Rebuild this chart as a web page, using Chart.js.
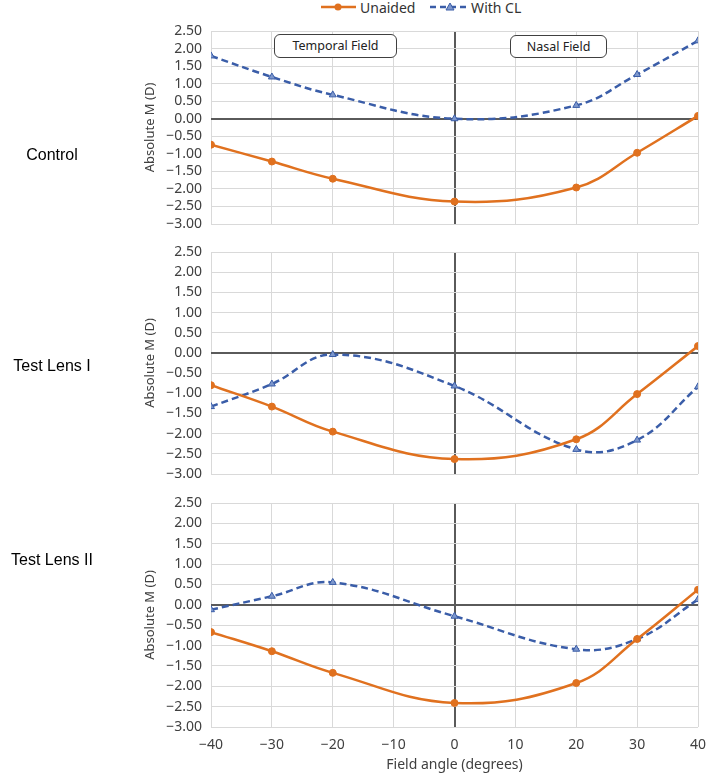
<!DOCTYPE HTML><html>
<head>
  <title>Absolute M by field angle</title>
  <meta name="viewport" content="width=device-width, initial-scale=1">
  <style>
  body {
    margin: 0;
    background: #fff;
    font-family: "Noto Sans", sans-serif;
  }
  .wrap {
    position: relative;
    width: 709px;
    height: 775px;
    overflow: hidden;
  }
  .panel {
    position: absolute;
    left: 0;
    width: 709px;
  }
  .rowlabel {
    position: absolute;
    left: 0;
    width: 104px;
    text-align: center;
    font-family: "Liberation Sans", Arial, sans-serif;
    font-size: 16px;
    color: #000;
    line-height: 20px;
  }
  .fieldbox {
    position: absolute;
    box-sizing: border-box;
    border: 1px solid #404040;
    border-radius: 6px;
    background: #fff;
    font-size: 12.5px;
    color: #222;
    text-align: center;
    line-height: 21px;
  }
  .legend {
    position: absolute;
    top: -4px;
    left: 318px;
    font-size: 14px;
    color: #333;
    white-space: nowrap;
  }
  .legend span { vertical-align: middle; }
  .legend svg { vertical-align: middle; }
  </style>
  <script src="https://cdn.jsdelivr.net/npm/chart.js"></script>
</head>
<body>
<div class="wrap">
  <div class="legend">
    <svg width="40" height="12"><line x1="3" y1="6" x2="38" y2="6" stroke="#E0711F" stroke-width="2.5"/><circle cx="20" cy="6" r="3.5" fill="#E0711F"/></svg><span style="margin-left:2px">Unaided</span>
    <svg width="42" height="12" style="margin-left:10px"><line x1="1" y1="6" x2="40" y2="6" stroke="#3A5DA8" stroke-width="2.5" stroke-dasharray="6,4"/><polygon points="21,2 25,9 17,9" fill="#7D97CC" stroke="#3A5DA8" stroke-width="1"/></svg><span>With CL</span>
  </div>

  <canvas id="p1" class="panel" style="top:18px" width="709" height="220"></canvas>
  <canvas id="p2" class="panel" style="top:240px" width="709" height="248"></canvas>
  <canvas id="p3" class="panel" style="top:490px" width="709" height="285"></canvas>

  <div class="fieldbox" style="left:274px;top:34px;width:123px;height:24px">Temporal Field</div>
  <div class="fieldbox" style="left:510px;top:35px;width:97px;height:23px">Nasal Field</div>

  <div class="rowlabel" style="top:145px">Control</div>
  <div class="rowlabel" style="top:356px">Test Lens I</div>
  <div class="rowlabel" style="top:550px">Test Lens II</div>
</div>

<script>
  // field angles (degrees)
  var angles = [-40, -30, -20, 0, 20, 30, 40];

  // absolute M (D)
  var controlUnaided = [-0.74, -1.22, -1.71, -2.36, -1.96, -0.97, 0.08];
  var controlCL      = [1.79, 1.19, 0.68, 0.00, 0.38, 1.26, 2.22];
  var lens1Unaided   = [-0.80, -1.33, -1.95, -2.63, -2.14, -1.02, 0.17];
  var lens1CL        = [-1.33, -0.77, -0.04, -0.82, -2.39, -2.16, -0.84];
  var lens2Unaided   = [-0.67, -1.14, -1.67, -2.41, -1.92, -0.84, 0.37];
  var lens2CL        = [-0.12, 0.21, 0.55, -0.28, -1.09, -0.84, 0.13];

  var xMin = -40, xMax = 40, xStep = 10;
  var yMin = -3, yMax = 2.5, yStep = 0.5;

  var orange = '#E0711F';
  var blue = '#3A5DA8';
  var gridCol = '#D9D9D9';
  var zeroCol = '#5A5A5A';

  function pts(ys) {
    return angles.map(function (a, i) { return {x: a, y: ys[i]}; });
  }

  function fmt(v) {
    var s = Math.abs(v).toFixed(2);
    return (v < -0.001 ? '\u2212' : '') + s;
  }

  function gridColor(ctx) { return ctx.tick && ctx.tick.value === 0 ? zeroCol : gridCol; }
  function gridWidth(ctx) { return ctx.tick && ctx.tick.value === 0 ? 2 : 1; }

  function makePanel(id, unaided, withCL, pad, showX) {
    var xAxis = {
      type: 'linear',
      min: xMin,
      max: xMax,
      border: {display: false},
      grid: {color: gridColor, lineWidth: gridWidth, drawTicks: false},
      ticks: {
        display: showX,
        autoSkip: false,
        stepSize: xStep,
        padding: 10,
        maxRotation: 0,
        color: '#404040',
        font: {family: 'Noto Sans', size: 14},
        callback: function (v) { return v < 0 ? '\u2212' + Math.abs(v) : String(v); }
      },
      title: {
        display: showX,
        text: 'Field angle (degrees)',
        color: '#404040',
        padding: {top: 4, bottom: 2},
        font: {family: 'Noto Sans', size: 14}
      },
      afterFit: function (s) {
        s.height = showX ? 48 : 0;
        s.paddingLeft = 0;
        s.paddingRight = 0;
      }
    };
    var yAxis = {
      min: yMin,
      max: yMax,
      border: {display: false},
      grid: {color: gridColor, lineWidth: gridWidth, drawTicks: false},
      ticks: {
        autoSkip: false,
        stepSize: yStep,
        padding: 9,
        color: '#404040',
        font: {family: 'Noto Sans', size: 14},
        callback: function (v) { return fmt(v); }
      },
      title: {
        display: true,
        text: 'Absolute M (D)',
        color: '#404040',
        padding: {top: 4, bottom: 4},
        font: {family: 'Noto Sans', size: 13}
      },
      afterFit: function (s) {
        s.width = 73;
        s.paddingTop = 0;
        s.paddingBottom = 0;
      }
    };

    return new Chart(document.getElementById(id), {
      type: 'line',
      data: {
        datasets: [{
          label: 'Unaided',
          data: pts(unaided),
          borderColor: orange,
          backgroundColor: orange,
          borderWidth: 2.5,
          pointRadius: 3.5,
          pointBorderWidth: 1,
          pointStyle: 'circle',
          tension: 0.4
        }, {
          label: 'With CL',
          data: pts(withCL),
          borderColor: blue,
          backgroundColor: '#7D97CC',
          borderWidth: 2.5,
          borderDash: [7, 4],
          pointRadius: 4,
          pointBorderWidth: 1,
          pointStyle: 'triangle',
          tension: 0.4
        }]
      },
      options: {
        responsive: false,
        animation: false,
        layout: {padding: pad},
        plugins: {legend: {display: false}, tooltip: {enabled: false}},
        scales: {x: xAxis, y: yAxis}
      }
    });
  }

  makePanel('p1', controlUnaided, controlCL, {left: 138, right: 11, top: 13, bottom: 14}, false);
  makePanel('p2', lens1Unaided, lens1CL, {left: 138, right: 11, top: 12, bottom: 14}, false);
  makePanel('p3', lens2Unaided, lens2CL, {left: 138, right: 11, top: 13, bottom: 0}, true);
</script>
</body>
</html>
